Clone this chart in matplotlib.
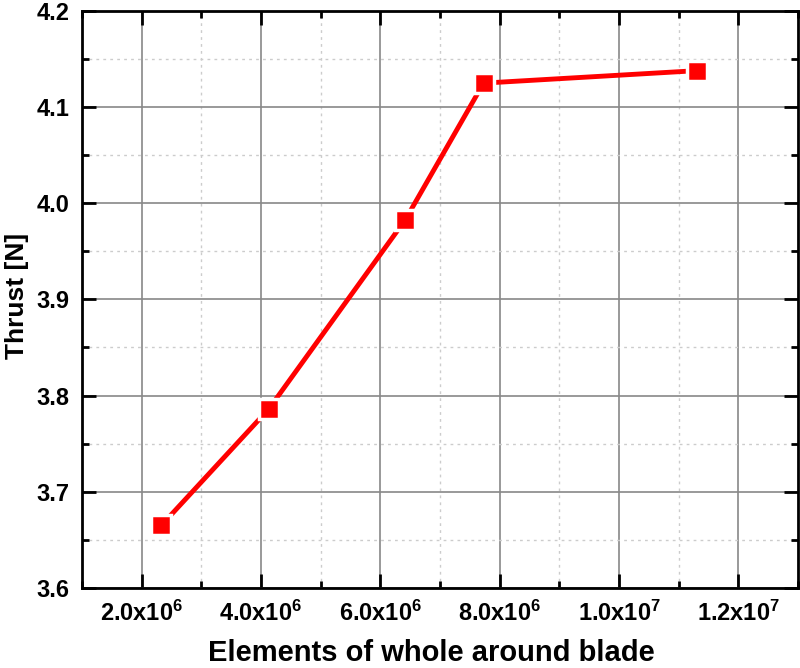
import numpy as np
import matplotlib.pyplot as plt
from matplotlib.ticker import MultipleLocator, FixedLocator

plt.rcParams['font.family'] = ['Liberation Sans', 'DejaVu Sans']
plt.rcParams['font.weight'] = 'bold'
plt.rcParams['mathtext.fontset'] = 'custom'
plt.rcParams['mathtext.rm'] = 'Liberation Sans:bold'
plt.rcParams['mathtext.default'] = 'rm'

# data
elements = [2.33e6, 4.13e6, 6.42e6, 7.73e6, 11.31e6]
thrust = [3.665, 3.786, 3.983, 4.125, 4.138]

xticks = [2e6, 4e6, 6e6, 8e6, 1e7, 1.2e7]
xticklabels = [r'2.0x10$^{6}$', r'4.0x10$^{6}$', r'6.0x10$^{6}$',
               r'8.0x10$^{6}$', r'1.0x10$^{7}$', r'1.2x10$^{7}$']

fig = plt.figure(figsize=(8, 6.68), dpi=100)
ax = fig.add_axes([0.1025, 0.12, 0.895, 0.8635])

ax.plot(elements, thrust, '-', color='red', lw=3.5, marker='s', ms=15,
        mfc='red', mec='white', mew=2.5, zorder=3)

ax.set_xlim(1e6, 1.3e7)
ax.set_ylim(3.6, 4.2)
ax.xaxis.set_major_locator(FixedLocator(xticks))
ax.set_xticklabels(xticklabels)
ax.xaxis.set_minor_locator(MultipleLocator(1e6))
ax.yaxis.set_major_locator(MultipleLocator(0.1))
ax.yaxis.set_minor_locator(MultipleLocator(0.05))

ax.grid(which='major', color='#888888', lw=1.2, ls='-', zorder=0)
ax.grid(which='minor', color='#cccccc', lw=1, ls=(0, (2, 3)), zorder=0)
ax.set_axisbelow(True)

ax.tick_params(which='major', direction='in', length=10, width=2,
               top=True, right=True, labelsize=17, pad=9)
ax.tick_params(which='minor', direction='in', length=5, width=2,
               top=True, right=True)
for s in ax.spines.values():
    s.set_linewidth(2)

ax.set_xlabel('Elements of whole around blade', fontsize=21, fontweight='bold')
ax.set_ylabel('Thrust [N]', fontsize=19, fontweight='bold')
ax.xaxis.set_label_coords(0.4875, -0.089)
ax.yaxis.set_label_coords(-0.074, 0.506)

fig.savefig('out.png', dpi=100)
